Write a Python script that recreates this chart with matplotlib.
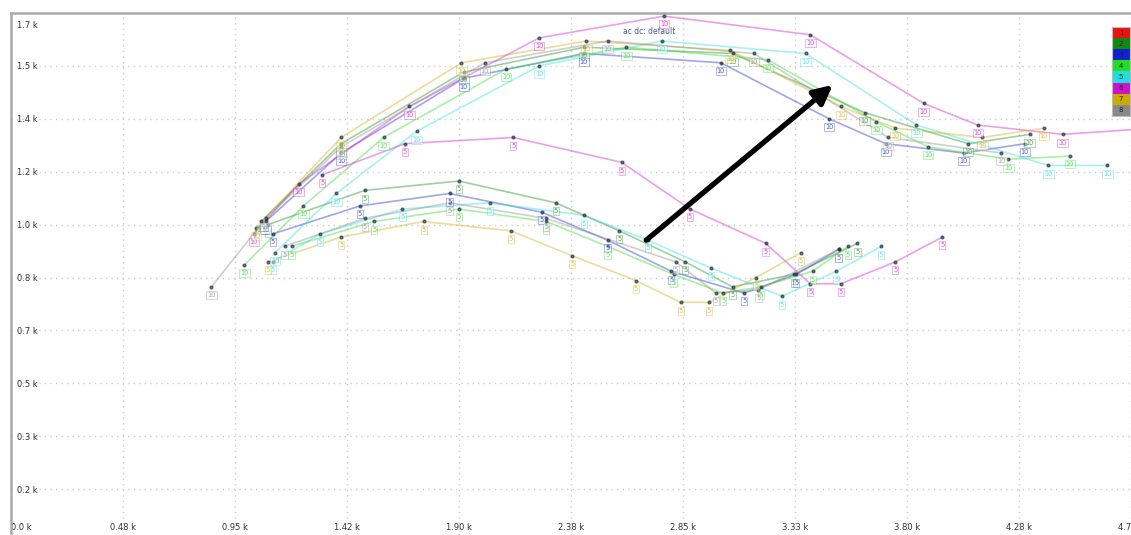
import matplotlib.pyplot as plt
import matplotlib.transforms as mtransforms
from matplotlib.patches import Rectangle

# speed / load points, values in thousands (k)
x_ticks = [0, 0.475, 0.95, 1.425, 1.9, 2.375, 2.85, 3.325, 3.8, 4.275, 4.75]
x_labels = ['0.0 k', '0.48 k', '0.95 k', '1.42 k', '1.90 k', '2.38 k',
            '2.85 k', '3.33 k', '3.80 k', '4.28 k', '4.75 k']
y_ticks = [0, 0.17, 0.34, 0.51, 0.68, 0.85, 1.02, 1.19, 1.36, 1.53, 1.70]
y_labels = ['0.0 k', '0.2 k', '0.3 k', '0.5 k', '0.7 k', '0.8 k',
            '1.0 k', '1.2 k', '1.4 k', '1.5 k', '1.7 k']

legend_names = ['1', '2', '3', '4', '5', '6', '7', '8']
legend_colors = ['#ee1111', '#118811', '#1122cc', '#22dd22',
                 '#22dddd', '#cc11cc', '#ccaa00', '#888888']
point_tags = ['10', '5']

# series 2 (dark green)
s2_hi_x = [1.06, 1.40, 1.92, 2.43, 3.06, 3.62, 4.06, 4.32]
s2_hi_y = [1.03, 1.28, 1.51, 1.59, 1.57, 1.38, 1.28, 1.31]
s2_lo_x = [1.09, 1.50, 1.90, 2.31, 2.58, 2.86, 3.06, 3.32, 3.59]
s2_lo_y = [1.02, 1.13, 1.16, 1.09, 1.00, 0.90, 0.82, 0.86, 0.96]
# series 3 (blue)
s3_hi_x = [1.08, 1.40, 1.92, 2.43, 3.01, 3.47, 3.71, 4.04, 4.30]
s3_hi_y = [1.03, 1.25, 1.49, 1.57, 1.54, 1.36, 1.28, 1.25, 1.28]
s3_lo_x = [1.11, 1.48, 1.86, 2.25, 2.53, 2.80, 3.11, 3.33, 3.51]
s3_lo_y = [0.99, 1.08, 1.12, 1.06, 0.97, 0.87, 0.80, 0.86, 0.94]
# series 4 (green)
s4_hi_x = [0.99, 1.24, 1.58, 2.10, 2.61, 3.21, 3.67, 3.89, 4.23, 4.49]
s4_hi_y = [0.89, 1.08, 1.30, 1.52, 1.59, 1.55, 1.35, 1.27, 1.23, 1.24]
s4_lo_x = [1.19, 1.54, 1.90, 2.27, 2.53, 2.81, 3.02, 3.18, 3.40, 3.55]
s4_lo_y = [0.95, 1.03, 1.07, 1.03, 0.95, 0.86, 0.80, 0.82, 0.87, 0.95]
# series 5 (cyan)
s5_hi_x = [1.12, 1.38, 1.72, 2.24, 2.76, 3.37, 3.84, 4.40, 4.65]
s5_hi_y = [0.93, 1.12, 1.32, 1.53, 1.61, 1.57, 1.34, 1.21, 1.21]
s5_lo_x = [1.11, 1.31, 1.66, 2.03, 2.43, 2.70, 2.97, 3.27, 3.50, 3.69]
s5_lo_y = [0.90, 0.99, 1.07, 1.09, 1.05, 0.97, 0.88, 0.79, 0.87, 0.95]
# series 6 (magenta)
s6_hi_x = [1.03, 1.22, 1.69, 2.24, 2.77, 3.39, 3.87, 4.10, 4.46, 4.85]
s6_hi_y = [0.99, 1.15, 1.40, 1.62, 1.69, 1.63, 1.41, 1.34, 1.31, 1.33]
s6_lo_x = [1.32, 1.67, 2.13, 2.59, 2.88, 3.20, 3.39, 3.52, 3.75, 3.95]
s6_lo_y = [1.18, 1.28, 1.30, 1.22, 1.07, 0.96, 0.83, 0.83, 0.90, 0.98]
# series 7 (gold)
s7_hi_x = [1.04, 1.40, 1.91, 2.44, 3.05, 3.52, 3.75, 4.12, 4.38]
s7_hi_y = [1.01, 1.30, 1.54, 1.61, 1.58, 1.40, 1.33, 1.30, 1.33]
s7_lo_x = [1.09, 1.40, 1.75, 2.12, 2.38, 2.65, 2.84, 2.96, 3.16, 3.35]
s7_lo_y = [0.90, 0.98, 1.03, 1.00, 0.92, 0.84, 0.77, 0.77, 0.85, 0.93]
# series 8 (grey)
s8_hi_x = [0.85, 1.08, 1.40, 2.01, 2.53, 3.15, 3.72, 4.20]
s8_hi_y = [0.82, 1.04, 1.27, 1.54, 1.61, 1.57, 1.30, 1.25]
s8_lo_x = [1.16, 1.50, 1.86, 2.27, 2.82, 2.99, 3.17, 3.51]
s8_lo_y = [0.95, 1.04, 1.09, 1.04, 0.90, 0.80, 0.81, 0.94]

series = [
    (legend_colors[1], s2_hi_x, s2_hi_y, s2_lo_x, s2_lo_y),
    (legend_colors[2], s3_hi_x, s3_hi_y, s3_lo_x, s3_lo_y),
    (legend_colors[3], s4_hi_x, s4_hi_y, s4_lo_x, s4_lo_y),
    (legend_colors[4], s5_hi_x, s5_hi_y, s5_lo_x, s5_lo_y),
    (legend_colors[5], s6_hi_x, s6_hi_y, s6_lo_x, s6_lo_y),
    (legend_colors[6], s7_hi_x, s7_hi_y, s7_lo_x, s7_lo_y),
    (legend_colors[7], s8_hi_x, s8_hi_y, s8_lo_x, s8_lo_y),
]

W, H = 1131, 535
fig = plt.figure(figsize=(W / 100, H / 100), dpi=100)
ax = fig.add_axes([11 / W, 0, 1 - 11 / W, 1 - 13 / H])
ax.set_xlim(0, 4.708)
ax.set_ylim(0.0225, 1.70)

for c, hx, hy, lx, ly in series:
    for xs, ys, tag in ((hx, hy, point_tags[0]), (lx, ly, point_tags[1])):
        ax.plot(xs, ys, '-', color=c, lw=1.2, alpha=0.4, zorder=2)
        ax.plot(xs, ys, 'o', color='#223344', ms=2.0, alpha=0.65, zorder=3)
        for x, y in zip(xs, ys):
            ax.annotate(tag, (x, y), xytext=(0, -6), textcoords='offset points',
                        ha='center', va='center', fontsize=4.8, color=c, alpha=0.75,
                        bbox=dict(boxstyle='square,pad=0.15', fc='white',
                                  ec=c, lw=0.5, alpha=0.45), zorder=4)

ax.text(2.707, 1.642, 'ac dc: default', fontsize=5.5, color='#4a5a8a',
        ha='center', va='center')

ax.annotate('', xy=(3.485, 1.469), xytext=(2.694, 0.970),
            arrowprops=dict(arrowstyle='-|>', lw=3.8, color='black',
                            mutation_scale=28, shrinkA=0, shrinkB=0), zorder=6)

ax.set_xticks(x_ticks)
ax.set_xticklabels(x_labels)
ax.set_yticks(y_ticks[1:])
ax.set_yticklabels(y_labels[1:])
ax.tick_params(axis='x', direction='in', length=0, pad=-9, labelsize=6, colors='#333333')
ax.tick_params(axis='y', direction='in', length=0, pad=-4, labelsize=6, colors='#333333')
for lbl in ax.get_yticklabels():
    lbl.set_horizontalalignment('left')
top_lbl = ax.get_yticklabels()[-1]
top_lbl.set_verticalalignment('top')
top_lbl.set_transform(top_lbl.get_transform() +
                      mtransforms.ScaledTranslation(0, -6 / 72, fig.dpi_scale_trans))
ax.get_xticklabels()[0].set_horizontalalignment('left')

ax.grid(True, color='#cccccc', linestyle=(0, (1, 3)), lw=1)
ax.set_axisbelow(True)
for side in ('right', 'bottom'):
    ax.spines[side].set_visible(False)
for side in ('left', 'top'):
    ax.spines[side].set_color('#aaaaaa')
    ax.spines[side].set_linewidth(1.8)

# legend column of coloured boxes
lax = fig.add_axes([1112 / W, 1 - 116 / H, 18 / W, 89 / H])
for i, (name, c) in enumerate(zip(legend_names, legend_colors)):
    lax.add_patch(Rectangle((0, i), 1, 1, fc=c, ec='none'))
    lax.text(0.5, i + 0.5, name, ha='center', va='center', fontsize=5, color='#222222')
lax.set_xlim(0, 1)
lax.set_ylim(len(legend_names), 0)
lax.set_xticks([])
lax.set_yticks([])
for sp in lax.spines.values():
    sp.set_color('#bbbbbb')

fig.savefig('out.png', dpi=100)
